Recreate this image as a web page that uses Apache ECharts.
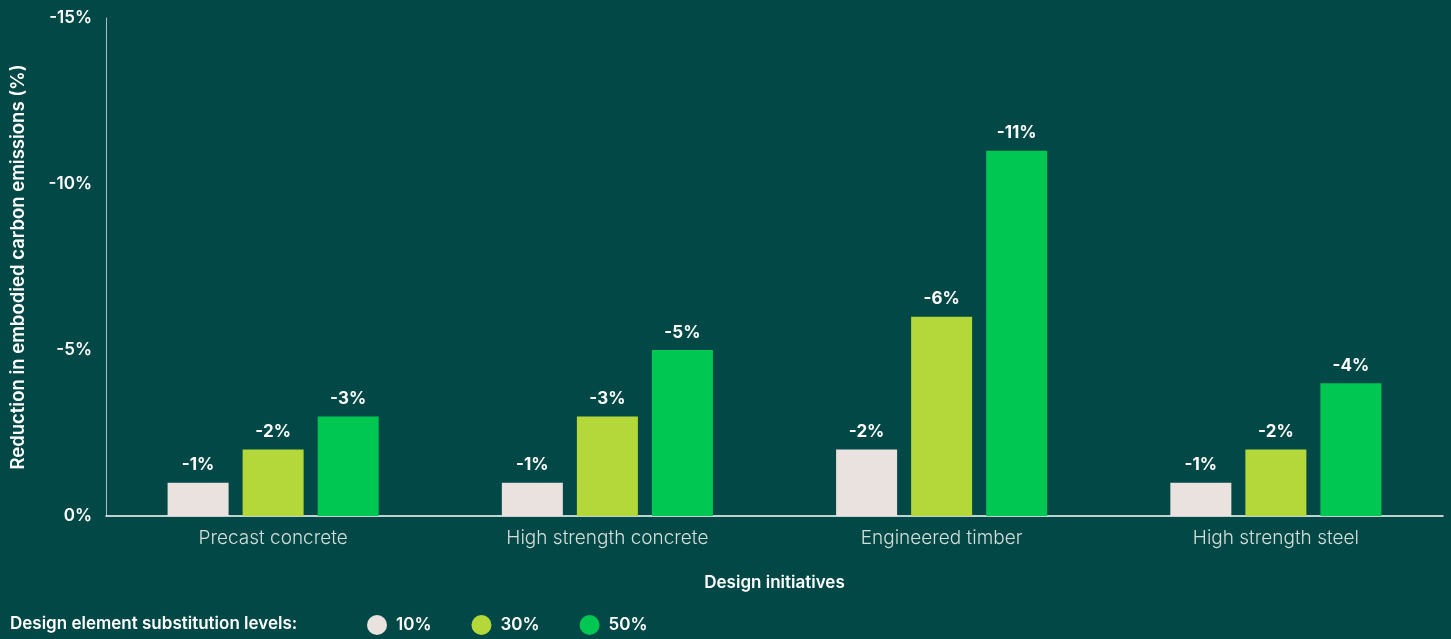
<!DOCTYPE html>
<html><head><meta charset="utf-8">
<script src="https://cdn.jsdelivr.net/npm/echarts@6/dist/echarts.min.js"></script>
<style>html,body{margin:0;padding:0;background:#024846}#c{width:1451px;height:639px}</style>
</head><body><div id="c"></div>
<script>
const categories = ['Precast concrete', 'High strength concrete', 'Engineered timber', 'High strength steel'];
const seriesNames = ['10%', '30%', '50%'];
const level10 = [-1, -1, -2, -1];
const level30 = [-2, -3, -6, -2];
const level50 = [-3, -5, -11, -4];
const yTicks = [0, -5, -10, -15];
const colors = ['#EAE2DE', '#B4D83A', '#00C652'];

const chart = echarts.init(document.getElementById('c'));
const font = 'Inter, "Noto Sans", sans-serif';
const dataSets = [level10, level30, level50];
chart.setOption({
  backgroundColor: '#024846',
  animation: false,
  textStyle: { fontFamily: font },
  grid: { left: 106, right: 8, top: 18, bottom: 123, outerBoundsMode: 'none', containLabel: false },
  legend: {
    left: 362, top: 610,
    itemWidth: 20, itemHeight: 20, itemGap: 40,
    icon: 'circle',
    data: seriesNames,
    textStyle: { color: '#ffffff', fontSize: 17, fontWeight: 600, fontFamily: font, padding: [0, 0, 0, 4] }
  },
  graphic: [{
    type: 'text', left: 10, top: 615,
    style: { text: 'Design element substitution levels:', fill: '#ffffff', font: '600 17px ' + font }
  }],
  xAxis: {
    type: 'category', data: categories,
    name: 'Design initiatives', nameLocation: 'middle', nameGap: 58,
    nameTextStyle: { color: '#ffffff', fontSize: 17, fontWeight: 600 },
    axisLine: { lineStyle: { color: '#ffffff', width: 1.5 } },
    axisTick: { show: false },
    axisLabel: { color: '#d4dedb', fontSize: 19, fontWeight: 300, margin: 13 }
  },
  yAxis: {
    type: 'value', inverse: true, min: -15, max: 0, interval: 5,
    name: 'Reduction in embodied carbon emissions (%)', nameLocation: 'middle', nameGap: 78,
    nameTextStyle: { color: '#ffffff', fontSize: 18.5, fontWeight: 600 },
    axisLine: { show: true, lineStyle: { color: '#a9bfbc', width: 1 } },
    axisTick: { show: false },
    splitLine: { show: false },
    axisLabel: { color: '#ffffff', fontSize: 17, fontWeight: 600, margin: 14,
      formatter: v => yTicks.includes(v) ? v + '%' : '' }
  },
  series: dataSets.map((d, i) => ({
    name: seriesNames[i], type: 'bar', data: d,
    barWidth: 61, barGap: '23%', barCategoryGap: '37%',
    itemStyle: { color: colors[i] },
    label: { show: true, position: 'top', distance: 9, color: '#ffffff', fontSize: 17, fontWeight: 700,
      formatter: p => p.value + '%' }
  }))
});
</script></body></html>
